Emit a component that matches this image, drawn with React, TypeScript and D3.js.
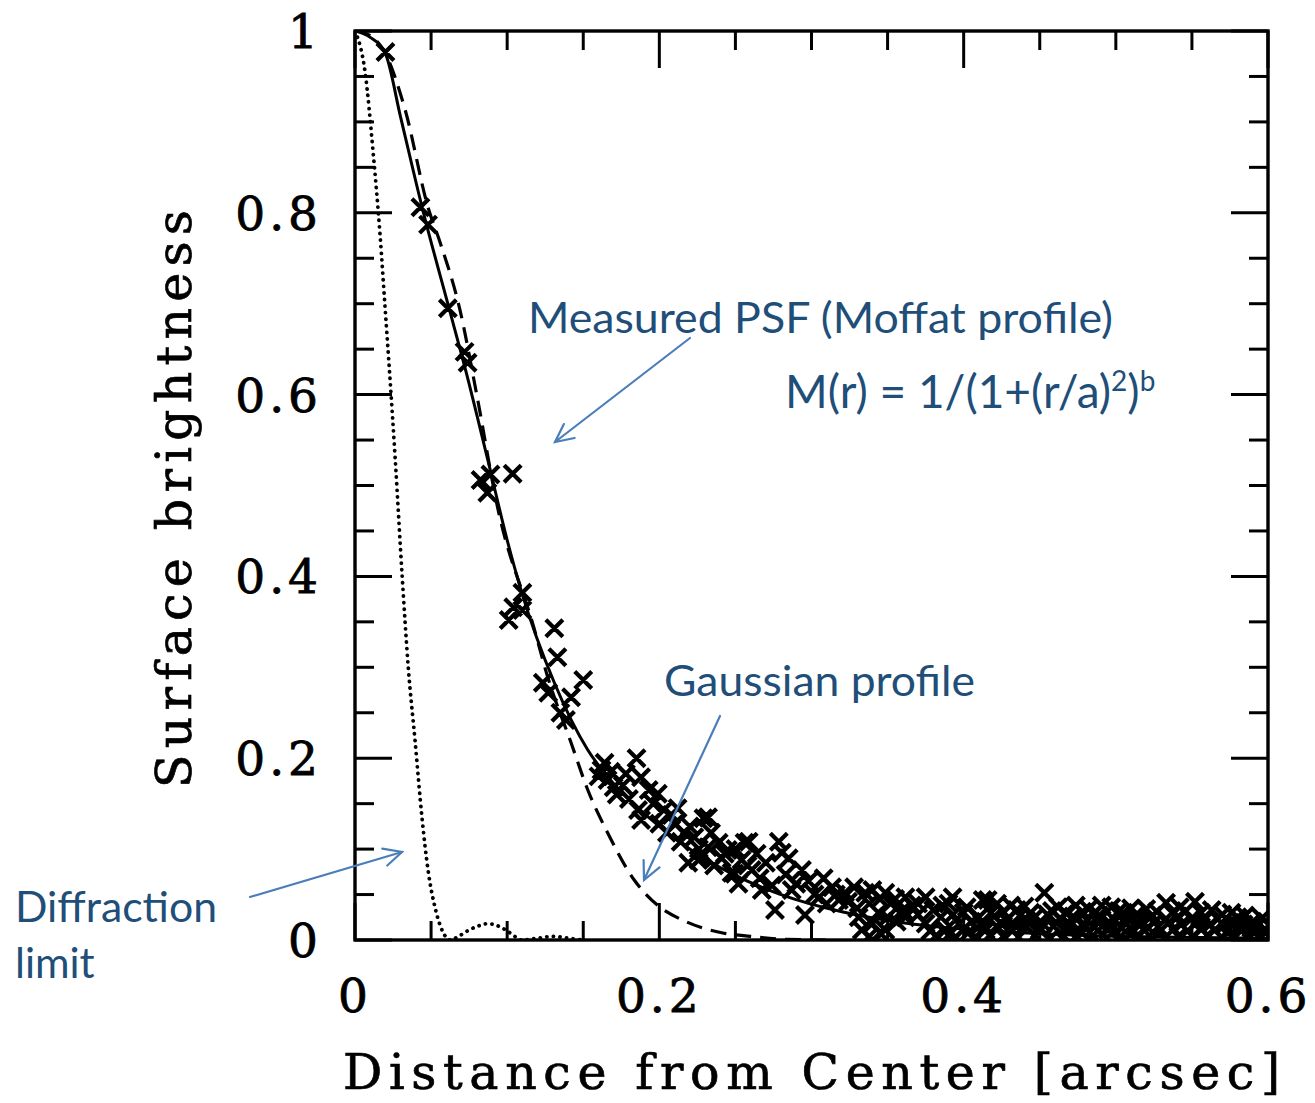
import React from "react";
import * as d3 from "d3";

const W = 1315;
const H = 1103;
const PLOT = { left: 355, right: 1268, top: 31, bottom: 940 };

// axis ticks
const xMajor = [0, 0.2, 0.4, 0.6];
const xMajorLabels = ["0", "0.2", "0.4", "0.6"];
const xMinor = [0.05, 0.1, 0.15, 0.25, 0.3, 0.35, 0.45, 0.5, 0.55];
const yMajor = [0, 0.2, 0.4, 0.6, 0.8, 1];
const yMajorLabels = ["0", "0.2", "0.4", "0.6", "0.8", "1"];
const yMinor = [0.05, 0.1, 0.15, 0.25, 0.3, 0.35, 0.45, 0.5, 0.55, 0.65, 0.7, 0.75, 0.85, 0.9, 0.95];

// Moffat fit (solid)
const moffatR = [0, 0.01, 0.02, 0.03, 0.045, 0.061, 0.073, 0.087, 0.1, 0.11, 0.131, 0.153, 0.17, 0.193, 0.221, 0.2475, 0.28, 0.32, 0.36, 0.4, 0.45, 0.5, 0.6];
const moffatV = [1, 0.993, 0.975, 0.905, 0.8, 0.7, 0.625, 0.53, 0.44, 0.38, 0.283, 0.209, 0.172, 0.135, 0.099, 0.073, 0.05, 0.031, 0.019, 0.012, 0.007, 0.004, 0.002];

// Gaussian (dashed)
const gaussR = [0, 0.01, 0.02, 0.033, 0.048, 0.056, 0.069, 0.08, 0.0937, 0.1175, 0.1267, 0.142, 0.153, 0.166, 0.1835, 0.199, 0.2165, 0.241, 0.26, 0.28, 0.31];
const gaussV = [1, 0.995, 0.975, 0.913, 0.806, 0.767, 0.693, 0.6, 0.476, 0.344, 0.289, 0.217, 0.165, 0.118, 0.066, 0.038, 0.021, 0.008, 0.004, 0.001, 0];

// Diffraction limit (dotted)
const airyR = [0, 0.0066, 0.012, 0.0165, 0.0198, 0.0225, 0.0264, 0.031, 0.035, 0.0396, 0.044, 0.048, 0.053, 0.058, 0.0627, 0.068, 0.075, 0.082, 0.087, 0.093, 0.1, 0.105, 0.109, 0.12, 0.13, 0.14, 0.15];
const airyV = [1, 0.955, 0.865, 0.775, 0.695, 0.63, 0.53, 0.4, 0.3, 0.217, 0.135, 0.077, 0.033, 0.008, 0, 0.004, 0.011, 0.016, 0.018, 0.016, 0.01, 0.004, 0, 0.002, 0.004, 0.002, 0];

// Measured PSF samples, core
const coreR = [0.02, 0.043, 0.048, 0.061, 0.072, 0.074, 0.0825, 0.089, 0.087, 0.1036, 0.11, 0.104, 0.101, 0.11, 0.131, 0.133, 0.1234, 0.127, 0.15, 0.142, 0.135, 0.1386,
  0.162, 0.166, 0.164, 0.17, 0.16, 0.168, 0.185, 0.188, 0.193, 0.199, 0.186, 0.188, 0.203, 0.208, 0.21, 0.2165, 0.229, 0.232, 0.223, 0.219, 0.2257, 0.239, 0.2475, 0.245,
  0.232, 0.241, 0.2495, 0.2587, 0.254, 0.256, 0.2785, 0.2805, 0.2277, 0.2607, 0.2937, 0.2673, 0.287, 0.276, 0.2957, 0.3135, 0.305, 0.318, 0.3353, 0.3485, 0.3617,
  0.375, 0.3927, 0.4125, 0.331, 0.333, 0.3485, 0.344, 0.3617, 0.375, 0.38, 0.388, 0.397, 0.41, 0.4145, 0.322, 0.34];
const coreV = [0.977, 0.806, 0.787, 0.695, 0.647, 0.635, 0.506, 0.512, 0.492, 0.513, 0.382, 0.366, 0.352, 0.363, 0.343, 0.311, 0.283, 0.272, 0.286, 0.267, 0.25, 0.242,
  0.187, 0.176, 0.195, 0.168, 0.18, 0.185, 0.2, 0.179, 0.165, 0.161, 0.143, 0.132, 0.143, 0.1375, 0.128, 0.118, 0.134, 0.135, 0.113, 0.085, 0.088, 0.107, 0.074, 0.099,
  0.102, 0.09, 0.073, 0.108, 0.088, 0.107, 0.108, 0.096, 0.091, 0.077, 0.077, 0.055, 0.055, 0.033, 0.0275, 0.058, 0.047, 0.044, 0.052, 0.052, 0.047,
  0.047, 0.047, 0.044, 0.025, 0.011, 0.011, 0.03, 0.025, 0.018, 0.033, 0.011, 0.018, 0.025, 0.011, 0.052, 0.055];

// Measured PSF samples, shoulder band
const bandR = [0.172, 0.176, 0.18, 0.178, 0.196, 0.2, 0.205, 0.212, 0.214, 0.22, 0.226, 0.234, 0.236, 0.243, 0.25, 0.252, 0.258, 0.264, 0.266, 0.27, 0.274,
  0.283, 0.285, 0.29, 0.298, 0.302, 0.308, 0.31, 0.316, 0.324, 0.328, 0.33, 0.345, 0.355, 0.37, 0.36, 0.385, 0.4, 0.405, 0.39, 0.37,
  0.34, 0.35, 0.378, 0.39, 0.4, 0.412, 0.418, 0.345];
const bandV = [0.16, 0.17, 0.155, 0.183, 0.15, 0.128, 0.118, 0.145, 0.108, 0.125, 0.1, 0.118, 0.082, 0.095, 0.1, 0.062, 0.082, 0.095, 0.068, 0.085, 0.06,
  0.072, 0.09, 0.062, 0.065, 0.05, 0.068, 0.04, 0.05, 0.042, 0.058, 0.035, 0.045, 0.045, 0.04, 0.033, 0.025, 0.03, 0.02, 0.04, 0.028,
  0.018, 0.025, 0.01, 0.005, 0.012, 0.018, 0.03, 0.008];

// Measured PSF samples, wings
const wingR = [0.4158, 0.431, 0.453, 0.4737, 0.4907, 0.497, 0.51, 0.533, 0.552, 0.563, 0.576, 0.596, 0.422, 0.44, 0.462, 0.482, 0.502, 0.52, 0.542, 0.585, 0.59,
  0.42, 0.428, 0.437, 0.446, 0.455, 0.464, 0.472, 0.481, 0.489, 0.498, 0.507, 0.516, 0.524, 0.533, 0.541, 0.55, 0.558, 0.567, 0.575, 0.584, 0.593, 0.598,
  0.423, 0.432, 0.441, 0.45, 0.459, 0.468, 0.477, 0.486, 0.495, 0.504, 0.512, 0.521, 0.53, 0.538, 0.547, 0.556, 0.565, 0.573, 0.582, 0.591, 0.597,
  0.426, 0.436, 0.447, 0.457, 0.466, 0.475, 0.485, 0.494, 0.503, 0.513, 0.522, 0.532, 0.541, 0.551, 0.56, 0.57, 0.579, 0.588, 0.596,
  0.338, 0.352, 0.366, 0.386, 0.402, 0.356, 0.393, 0.403, 0.395, 0.408, 0.338, 0.382, 0.417,
  0.426, 0.435, 0.444, 0.458, 0.467, 0.478, 0.486, 0.505, 0.514, 0.527, 0.537, 0.546, 0.556, 0.57, 0.58,
  0.424, 0.433, 0.442, 0.452, 0.461, 0.47, 0.479, 0.488, 0.497, 0.506, 0.515, 0.525, 0.534, 0.543, 0.553, 0.562, 0.571, 0.58, 0.589];
const wingV = [0.044, 0.038, 0.052, 0.038, 0.038, 0.036, 0.035, 0.041, 0.042, 0.033, 0.03, 0.024, 0.04, 0.037, 0.036, 0.034, 0.032, 0.034, 0.036, 0.027, 0.02,
  0.026, 0.022, 0.027, 0.024, 0.028, 0.023, 0.026, 0.022, 0.027, 0.024, 0.025, 0.022, 0.027, 0.023, 0.026, 0.024, 0.022, 0.023, 0.019, 0.017, 0.015, 0.012,
  0.013, 0.01, 0.014, 0.011, 0.015, 0.012, 0.009, 0.014, 0.011, 0.013, 0.01, 0.014, 0.011, 0.012, 0.01, 0.013, 0.011, 0.009, 0.012, 0.008, 0.01,
  0.004, 0.003, 0.005, 0.002, 0.004, 0.003, 0.005, 0.002, 0.004, 0.003, 0.005, 0.002, 0.004, 0.003, 0.005, 0.002, 0.004, 0.003, 0.004,
  0.04, 0.04, 0.038, 0.038, 0.036, 0.02, 0.028, 0.008, 0.003, 0.004, 0.004, 0.005, 0.005,
  0.031, 0.033, 0.03, 0.032, 0.03, 0.031, 0.029, 0.03, 0.029, 0.031, 0.03, 0.032, 0.03, 0.028, 0.025,
  0.019, 0.017, 0.02, 0.018, 0.019, 0.017, 0.018, 0.02, 0.017, 0.019, 0.017, 0.019, 0.018, 0.017, 0.019, 0.017, 0.016, 0.014, 0.013];

const TEXT_BLUE = "#1F4E79";
const ARROW_BLUE = "#4A7EBB";
const SANS = "Lato, 'Open Sans', sans-serif";
const SERIF = "'DejaVu Serif', 'Liberation Serif', serif";

function Arrow({ x1, y1, x2, y2 }: { x1: number; y1: number; x2: number; y2: number }) {
  const ang = Math.atan2(y2 - y1, x2 - x1);
  const L = 20;
  const a = (26 * Math.PI) / 180;
  const p1 = [x2 - L * Math.cos(ang - a), y2 - L * Math.sin(ang - a)];
  const p2 = [x2 - L * Math.cos(ang + a), y2 - L * Math.sin(ang + a)];
  return (
    <g stroke={ARROW_BLUE} strokeWidth={2.2} fill="none" strokeLinecap="round">
      <line x1={x1} y1={y1} x2={x2} y2={y2} />
      <polyline points={`${p1[0]},${p1[1]} ${x2},${y2} ${p2[0]},${p2[1]}`} />
    </g>
  );
}

export default function App() {
  const x = d3.scaleLinear().domain([0, 0.6]).range([PLOT.left, PLOT.right]);
  const y = d3.scaleLinear().domain([0, 1]).range([PLOT.bottom, PLOT.top]);

  const line = d3
    .line<[number, number]>()
    .x((d) => x(d[0]))
    .y((d) => y(d[1]))
    .curve(d3.curveMonotoneX);

  const zip = (a: number[], b: number[]) => a.map((v, i) => [v, b[i]] as [number, number]);
  const moffat = zip(moffatR, moffatV);
  const gauss = zip(gaussR, gaussV);
  const airy = zip(airyR, airyV);
  const pts = [...zip(coreR, coreV), ...zip(bandR, bandV), ...zip(wingR, wingV)];

  const s = 8.5;
  const crossPath = pts
    .map(([r, v]) => {
      const cx = x(r);
      const cy = y(v);
      return `M${cx - s},${cy - s}L${cx + s},${cy + s}M${cx - s},${cy + s}L${cx + s},${cy - s}`;
    })
    .join("");

  const majorLen = 37;
  const minorLen = 19;
  const tickStroke = 3;

  return (
    <svg width={W} height={H} style={{ position: "absolute", left: 0, top: 0, background: "#fff" }}>
      <defs>
        <clipPath id="plotclip">
          <rect x={PLOT.left} y={PLOT.top} width={PLOT.right - PLOT.left} height={PLOT.bottom - PLOT.top} />
        </clipPath>
      </defs>
      <rect x={0} y={0} width={W} height={H} fill="#fff" />

      {/* curves */}
      <g clipPath="url(#plotclip)" fill="none">
        <path d={line(airy) || ""} stroke="#000" strokeWidth={3.8} strokeDasharray="0.1 6.5" strokeLinecap="round" />
        <path d={line(gauss) || ""} stroke="#000" strokeWidth={3.2} strokeDasharray="16 9" />
        <path d={line(moffat) || ""} stroke="#000" strokeWidth={3} />
        <path d={crossPath} stroke="#000" strokeWidth={4.2} />
      </g>

      {/* frame */}
      <rect
        x={PLOT.left}
        y={PLOT.top}
        width={PLOT.right - PLOT.left}
        height={PLOT.bottom - PLOT.top}
        fill="none"
        stroke="#000"
        strokeWidth={3.4}
      />

      {/* ticks */}
      <g stroke="#000" strokeWidth={tickStroke}>
        {xMajor.map((t) => (
          <g key={"xM" + t}>
            <line x1={x(t)} x2={x(t)} y1={PLOT.bottom} y2={PLOT.bottom - majorLen} />
            <line x1={x(t)} x2={x(t)} y1={PLOT.top} y2={PLOT.top + majorLen} />
          </g>
        ))}
        {xMinor.map((t) => (
          <g key={"xm" + t}>
            <line x1={x(t)} x2={x(t)} y1={PLOT.bottom} y2={PLOT.bottom - minorLen} />
            <line x1={x(t)} x2={x(t)} y1={PLOT.top} y2={PLOT.top + minorLen} />
          </g>
        ))}
        {yMajor.map((t) => (
          <g key={"yM" + t}>
            <line x1={PLOT.left} x2={PLOT.left + majorLen} y1={y(t)} y2={y(t)} />
            <line x1={PLOT.right} x2={PLOT.right - majorLen} y1={y(t)} y2={y(t)} />
          </g>
        ))}
        {yMinor.map((t) => (
          <g key={"ym" + t}>
            <line x1={PLOT.left} x2={PLOT.left + minorLen} y1={y(t)} y2={y(t)} />
            <line x1={PLOT.right} x2={PLOT.right - minorLen} y1={y(t)} y2={y(t)} />
          </g>
        ))}
      </g>

      {/* tick labels */}
      <g fontFamily={SERIF} fontSize={47} fill="#000" stroke="#000" strokeWidth={0.8}>
        {xMajor.map((t, i) => (
          <text key={"xl" + t} x={x(t)} y={1012} textAnchor="middle" letterSpacing={4}>
            {xMajorLabels[i]}
          </text>
        ))}
        {yMajor.map((t, i) => (
          <text key={"yl" + t} x={322} y={y(t) + 17} textAnchor="end" letterSpacing={4}>
            {yMajorLabels[i]}
          </text>
        ))}
      </g>

      {/* axis titles */}
      <g fontFamily={SERIF} fontSize={49} fill="#000" stroke="#000" strokeWidth={0.7}>
        <text x={343} y={1089} textLength={937} lengthAdjust="spacing">
          Distance from Center [arcsec]
        </text>
        <text transform="translate(191,788) rotate(-90)" x={0} y={0} textLength={578} lengthAdjust="spacing">
          Surface brightness
        </text>
      </g>

      {/* annotations */}
      <g fontFamily={SANS} fill={TEXT_BLUE}>
        <text x={528} y={333} fontSize={42} textLength={585} lengthAdjust="spacingAndGlyphs">
          Measured PSF (Moffat profile)
        </text>
        <text x={785} y={408} fontSize={46}>
          M(r) = 1/(1+(r/a)
          <tspan fontSize={28} dy={-17}>2</tspan>
          <tspan dy={17}>)</tspan>
          <tspan fontSize={28} dy={-17}>b</tspan>
        </text>
        <text x={664} y={696} fontSize={42} textLength={311} lengthAdjust="spacingAndGlyphs">
          Gaussian profile
        </text>
        <text x={15} y={922} fontSize={42} textLength={202} lengthAdjust="spacingAndGlyphs">
          Diffraction
        </text>
        <text x={15} y={978} fontSize={42}>
          limit
        </text>
      </g>

      <Arrow x1={690} y1={338} x2={555} y2={442} />
      <Arrow x1={720} y1={716} x2={644} y2={880} />
      <Arrow x1={250} y1={897} x2={402} y2={852} />
    </svg>
  );
}
